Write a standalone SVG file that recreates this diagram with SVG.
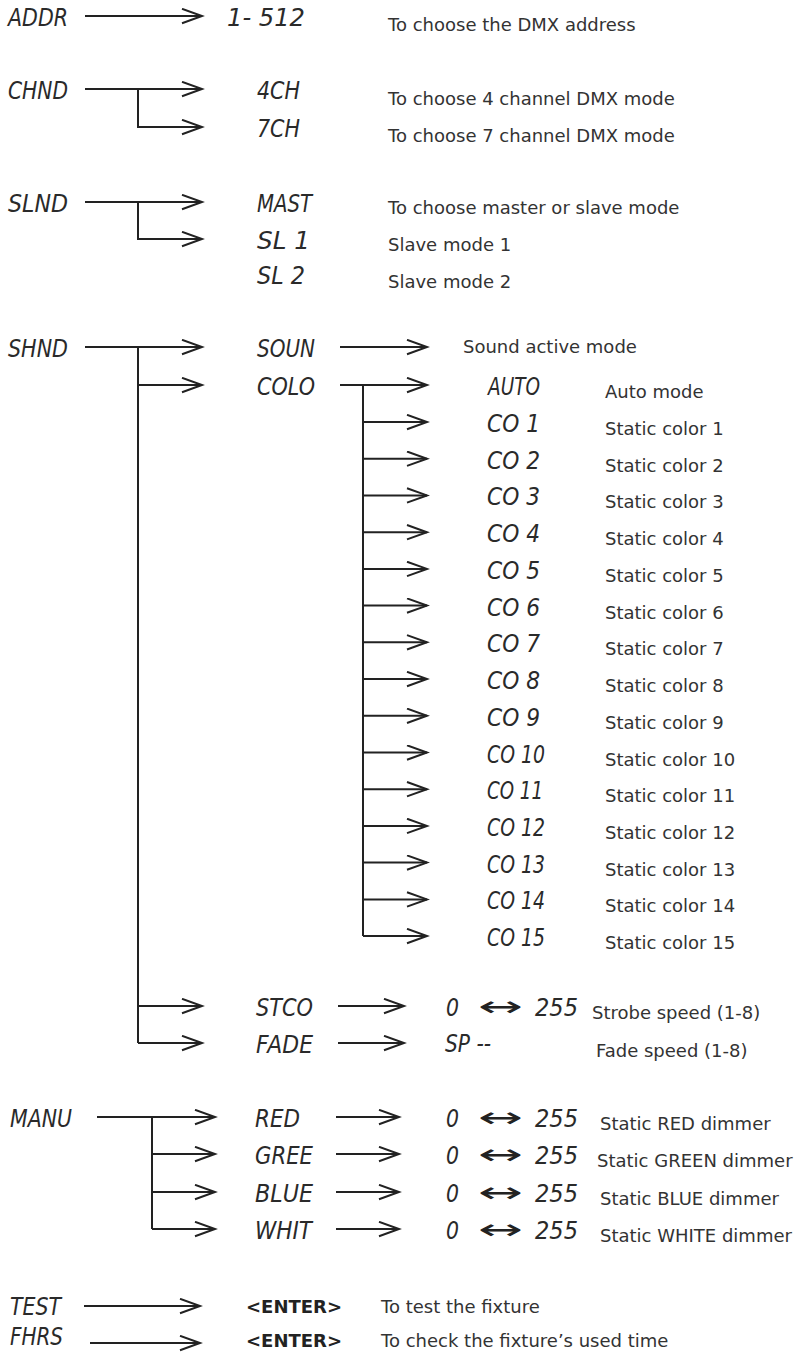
<svg xmlns="http://www.w3.org/2000/svg" width="803" height="1352" viewBox="0 0 803 1352">
<style>
.seg{font-family:"DejaVu Sans","Liberation Sans",sans-serif;font-style:italic;font-weight:300;font-size:25px;fill:#2a2a2a}
.lr{font-family:"DejaVu Sans","Liberation Sans",sans-serif;font-size:28px;fill:#222}
.d{font-family:"DejaVu Sans","Verdana","Liberation Sans",sans-serif;font-size:18px;fill:#333}
.b{font-family:"DejaVu Sans","Liberation Sans",sans-serif;font-weight:bold;font-size:18px;fill:#222}
.ln{fill:none;stroke:#222;stroke-width:2}
.ar{fill:none;stroke:#222;stroke-width:2;marker-end:url(#ah)}
</style>
<defs>
<marker id="ah" markerUnits="userSpaceOnUse" markerWidth="24" markerHeight="18" refX="21" refY="8" orient="auto">
<path d="M1,0.8 L21,8 L1,15.2" fill="none" stroke="#222" stroke-width="2"/>
</marker>
</defs>
<rect width="803" height="1352" fill="#fff"/>

<g id="connectors">
<path class="ar" d="M85,16 H202"/>
<path class="ar" d="M85,89 H202"/>
<path class="ar" d="M138,89 V127 H202"/>
<path class="ar" d="M85,202 H202"/>
<path class="ar" d="M138,202 V239 H202"/>
<path class="ar" d="M85,347 H202"/>
<path class="ln" d="M138,347 V1043"/>
<path class="ar" d="M138,385 H202"/>
<path class="ar" d="M138,1006 H202"/>
<path class="ar" d="M138,1043 H202"/>
<path class="ar" d="M340,347 H427"/>
<path class="ar" d="M340,385 H427"/>
<path class="ln" d="M363,385 V936"/>
<path class="ar" d="M363,422 H427"/>
<path class="ar" d="M363,458.7 H427"/>
<path class="ar" d="M363,495.4 H427"/>
<path class="ar" d="M363,532.2 H427"/>
<path class="ar" d="M363,568.9 H427"/>
<path class="ar" d="M363,605.6 H427"/>
<path class="ar" d="M363,642.3 H427"/>
<path class="ar" d="M363,679 H427"/>
<path class="ar" d="M363,715.8 H427"/>
<path class="ar" d="M363,752.5 H427"/>
<path class="ar" d="M363,789.2 H427"/>
<path class="ar" d="M363,825.9 H427"/>
<path class="ar" d="M363,862.6 H427"/>
<path class="ar" d="M363,899.4 H427"/>
<path class="ar" d="M363,936 H427"/>
<path class="ar" d="M338,1006 H404"/>
<path class="ar" d="M338,1043 H404"/>
<path class="ar" d="M97,1117 H215"/>
<path class="ln" d="M152,1117 V1229"/>
<path class="ar" d="M152,1154 H215"/>
<path class="ar" d="M152,1192 H215"/>
<path class="ar" d="M152,1229 H215"/>
<path class="ar" d="M336,1117 H399"/>
<path class="ar" d="M336,1154 H399"/>
<path class="ar" d="M336,1192 H399"/>
<path class="ar" d="M336,1229 H399"/>
<path class="ar" d="M84,1306 H200"/>
<path class="ar" d="M90,1343 H200"/>
</g>

<g id="n-addr"><text class="seg" x="8" y="26" textLength="60" lengthAdjust="spacingAndGlyphs">ADDR</text></g>
<g id="n-addr-val"><text class="seg" x="227" y="26" textLength="78" lengthAdjust="spacingAndGlyphs">1- 512</text><text class="d" x="388" y="31">To choose the DMX address</text></g>

<g id="n-chnd"><text class="seg" x="8" y="99" textLength="60" lengthAdjust="spacingAndGlyphs">CHND</text></g>
<g id="n-4ch"><text class="seg" x="257" y="99" textLength="43" lengthAdjust="spacingAndGlyphs">4CH</text><text class="d" x="388" y="105">To choose 4 channel DMX mode</text></g>
<g id="n-7ch"><text class="seg" x="257" y="137" textLength="43" lengthAdjust="spacingAndGlyphs">7CH</text><text class="d" x="388" y="142">To choose 7 channel DMX mode</text></g>

<g id="n-slnd"><text class="seg" x="8" y="212" textLength="60" lengthAdjust="spacingAndGlyphs">SLND</text></g>
<g id="n-mast"><text class="seg" x="257" y="212" textLength="55" lengthAdjust="spacingAndGlyphs">MAST</text><text class="d" x="388" y="214">To choose master or slave mode</text></g>
<g id="n-sl1"><text class="seg" x="257" y="249" textLength="53" lengthAdjust="spacingAndGlyphs">SL 1</text><text class="d" x="388" y="251">Slave mode 1</text></g>
<g id="n-sl2"><text class="seg" x="257" y="284" textLength="48" lengthAdjust="spacingAndGlyphs">SL 2</text><text class="d" x="388" y="288">Slave mode 2</text></g>

<g id="n-shnd"><text class="seg" x="8" y="357" textLength="60" lengthAdjust="spacingAndGlyphs">SHND</text></g>
<g id="n-soun"><text class="seg" x="257" y="357" textLength="58" lengthAdjust="spacingAndGlyphs">SOUN</text></g>
<g id="n-sound"><text class="d" x="463" y="353">Sound active mode</text></g>
<g id="n-colo"><text class="seg" x="257" y="395" textLength="58" lengthAdjust="spacingAndGlyphs">COLO</text></g>
<g id="n-auto"><text class="seg" x="488" y="395" textLength="52" lengthAdjust="spacingAndGlyphs">AUTO</text><text class="d" x="605" y="398">Auto mode</text></g>
<g id="n-co1"><text class="seg" x="487" y="432" textLength="53" lengthAdjust="spacingAndGlyphs">CO 1</text><text class="d" x="605" y="435">Static color 1</text></g>
<g id="n-co2"><text class="seg" x="487" y="468.7" textLength="53" lengthAdjust="spacingAndGlyphs">CO 2</text><text class="d" x="605" y="471.7">Static color 2</text></g>
<g id="n-co3"><text class="seg" x="487" y="505.4" textLength="53" lengthAdjust="spacingAndGlyphs">CO 3</text><text class="d" x="605" y="508.4">Static color 3</text></g>
<g id="n-co4"><text class="seg" x="487" y="542.2" textLength="53" lengthAdjust="spacingAndGlyphs">CO 4</text><text class="d" x="605" y="545.2">Static color 4</text></g>
<g id="n-co5"><text class="seg" x="487" y="578.9" textLength="53" lengthAdjust="spacingAndGlyphs">CO 5</text><text class="d" x="605" y="581.9">Static color 5</text></g>
<g id="n-co6"><text class="seg" x="487" y="615.6" textLength="53" lengthAdjust="spacingAndGlyphs">CO 6</text><text class="d" x="605" y="618.6">Static color 6</text></g>
<g id="n-co7"><text class="seg" x="487" y="652.3" textLength="53" lengthAdjust="spacingAndGlyphs">CO 7</text><text class="d" x="605" y="655.3">Static color 7</text></g>
<g id="n-co8"><text class="seg" x="487" y="689" textLength="53" lengthAdjust="spacingAndGlyphs">CO 8</text><text class="d" x="605" y="692">Static color 8</text></g>
<g id="n-co9"><text class="seg" x="487" y="725.8" textLength="53" lengthAdjust="spacingAndGlyphs">CO 9</text><text class="d" x="605" y="728.8">Static color 9</text></g>
<g id="n-co10"><text class="seg" x="487" y="762.5" textLength="58" lengthAdjust="spacingAndGlyphs">CO 10</text><text class="d" x="605" y="765.5">Static color 10</text></g>
<g id="n-co11"><text class="seg" x="487" y="799.2" textLength="56" lengthAdjust="spacingAndGlyphs">CO 11</text><text class="d" x="605" y="802.2">Static color 11</text></g>
<g id="n-co12"><text class="seg" x="487" y="835.9" textLength="58" lengthAdjust="spacingAndGlyphs">CO 12</text><text class="d" x="605" y="838.9">Static color 12</text></g>
<g id="n-co13"><text class="seg" x="487" y="872.6" textLength="58" lengthAdjust="spacingAndGlyphs">CO 13</text><text class="d" x="605" y="875.6">Static color 13</text></g>
<g id="n-co14"><text class="seg" x="487" y="909.4" textLength="58" lengthAdjust="spacingAndGlyphs">CO 14</text><text class="d" x="605" y="912.4">Static color 14</text></g>
<g id="n-co15"><text class="seg" x="487" y="946" textLength="58" lengthAdjust="spacingAndGlyphs">CO 15</text><text class="d" x="605" y="949">Static color 15</text></g>

<g id="n-stco"><text class="seg" x="256" y="1016" textLength="57" lengthAdjust="spacingAndGlyphs">STCO</text></g>
<g id="n-stco-val"><text class="seg" x="446" y="1016" textLength="13" lengthAdjust="spacingAndGlyphs">0</text><text class="lr" x="478" y="1016" textLength="45" lengthAdjust="spacingAndGlyphs">↔</text><text class="seg" x="535" y="1016" textLength="43" lengthAdjust="spacingAndGlyphs">255</text><text class="d" x="592" y="1019">Strobe speed (1-8)</text></g>
<g id="n-fade"><text class="seg" x="256" y="1053" textLength="57" lengthAdjust="spacingAndGlyphs">FADE</text></g>
<g id="n-fade-val"><text class="seg" x="445" y="1052" textLength="46" lengthAdjust="spacingAndGlyphs">SP --</text><text class="d" x="596" y="1057">Fade speed (1-8)</text></g>

<g id="n-manu"><text class="seg" x="10" y="1127" textLength="62" lengthAdjust="spacingAndGlyphs">MANU</text></g>
<g id="n-red"><text class="seg" x="255" y="1127" textLength="45" lengthAdjust="spacingAndGlyphs">RED</text></g>
<g id="n-red-val"><text class="seg" x="446" y="1127" textLength="13" lengthAdjust="spacingAndGlyphs">0</text><text class="lr" x="478" y="1127" textLength="45" lengthAdjust="spacingAndGlyphs">↔</text><text class="seg" x="535" y="1127" textLength="43" lengthAdjust="spacingAndGlyphs">255</text><text class="d" x="600" y="1130">Static RED dimmer</text></g>
<g id="n-gree"><text class="seg" x="255" y="1164" textLength="58" lengthAdjust="spacingAndGlyphs">GREE</text></g>
<g id="n-gree-val"><text class="seg" x="446" y="1164" textLength="13" lengthAdjust="spacingAndGlyphs">0</text><text class="lr" x="478" y="1164" textLength="45" lengthAdjust="spacingAndGlyphs">↔</text><text class="seg" x="535" y="1164" textLength="43" lengthAdjust="spacingAndGlyphs">255</text><text class="d" x="597" y="1167">Static GREEN dimmer</text></g>
<g id="n-blue"><text class="seg" x="255" y="1202" textLength="58" lengthAdjust="spacingAndGlyphs">BLUE</text></g>
<g id="n-blue-val"><text class="seg" x="446" y="1202" textLength="13" lengthAdjust="spacingAndGlyphs">0</text><text class="lr" x="478" y="1202" textLength="45" lengthAdjust="spacingAndGlyphs">↔</text><text class="seg" x="535" y="1202" textLength="43" lengthAdjust="spacingAndGlyphs">255</text><text class="d" x="600" y="1205">Static BLUE dimmer</text></g>
<g id="n-whit"><text class="seg" x="255" y="1239" textLength="57" lengthAdjust="spacingAndGlyphs">WHIT</text></g>
<g id="n-whit-val"><text class="seg" x="446" y="1239" textLength="13" lengthAdjust="spacingAndGlyphs">0</text><text class="lr" x="478" y="1239" textLength="45" lengthAdjust="spacingAndGlyphs">↔</text><text class="seg" x="535" y="1239" textLength="43" lengthAdjust="spacingAndGlyphs">255</text><text class="d" x="600" y="1242">Static WHITE dimmer</text></g>

<g id="n-test"><text class="seg" x="10" y="1315" textLength="51" lengthAdjust="spacingAndGlyphs">TEST</text></g>
<g id="n-test-enter"><text class="b" x="246" y="1313">&lt;ENTER&gt;</text><text class="d" x="381" y="1313">To test the fixture</text></g>
<g id="n-fhrs"><text class="seg" x="10" y="1345" textLength="53" lengthAdjust="spacingAndGlyphs">FHRS</text></g>
<g id="n-fhrs-enter"><text class="b" x="246" y="1347">&lt;ENTER&gt;</text><text class="d" x="381" y="1347">To check the fixture’s used time</text></g>
</svg>
